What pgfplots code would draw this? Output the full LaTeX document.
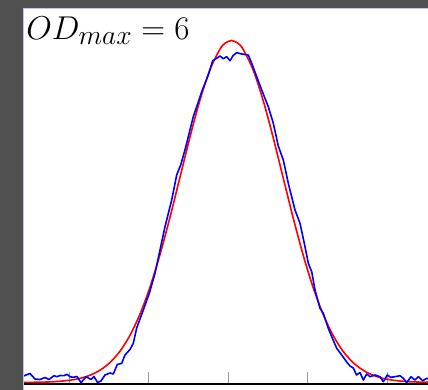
\documentclass[border=0pt]{standalone}
\usepackage{pgfplots}
\pgfplotsset{compat=1.18}
\definecolor{bggray}{HTML}{505050}
\definecolor{lav}{RGB}{195,195,240}
\begin{document}
\begin{tikzpicture}[x=1pt,y=1pt]
\fill[bggray] (0,0) rectangle (428,390);
\fill[white] (24,0) rectangle (428,381);
\draw[lav, line width=1pt] (23.5,0) -- (23.5,381.5) -- (428,381.5);
\begin{axis}[
  at={(24pt,6pt)}, anchor=south west,
  scale only axis, width=404pt, height=375pt,
  xmin=24, xmax=428, ymin=0, ymax=375,
  axis x line=bottom, axis y line=none,
  axis line style={-, black, line width=1.6pt},
  xtick={69,148.6,228.2,307.8,387.4}, xticklabels={}, ytick=\empty,
  tick align=inside, major tick length=11.5pt,
  tick style={gray!80, line width=1pt},
]
\addplot[red, line width=1.6pt, smooth] coordinates {
(24,1.59) (40,1.80) (55,2.36) (70,3.77) (80,5.65) (90,8.79) (100,13.81)
(110,21.5) (120,32.8) (130,48.7) (140,69.9) (150,96.9) (160,129.5)
(170,166.8) (180,206.9) (190,247.1) (200,284.1) (210,314.4) (220,334.9)
(225,340.7) (231.5,343.5) (238,340.7) (243,334.9) (253,314.4) (263,284.1)
(273,247.1) (283,206.9) (293,166.8) (303,129.5) (313,96.9) (323,69.9)
(333,48.7) (343,32.8) (353,21.5) (363,13.81) (373,8.79) (383,5.65)
(393,3.77) (408,2.36) (428,1.70)
};
\addplot[blue, line width=1.6pt, line join=round] coordinates {
(24,8) (26,9) (30,10.5) (35,5) (40,4.5) (45,6.5) (49,4.5) (54,8.3) (57,7.3)
(60,8.5) (64,8.3) (67,9.7) (70,7.3) (73,6.7) (77,7.5) (81,1.3) (86,7.3)
(91,4.5) (94,7.5) (97.5,1.5) (101,3) (105,9) (110,11) (113.3,10)
(117.3,19.5) (121.7,20.7) (125,29) (130,34.5) (133.3,40.7) (136.7,56)
(143.3,74) (149.3,90.7) (155,110.7) (160,134) (165,157.3) (171.7,184)
(176.7,209) (180.7,219) (185.5,236) (193.3,267.3) (196.7,277.3)
(201.7,292.3) (205,300.7) (208.3,309) (212.7,323.3) (216.7,325.7)
(220,328) (223.3,325.3) (226.7,327.3) (230,323.3) (233.3,328.7)
(236.7,331.3) (241.7,330) (248.3,329) (251.7,320.7) (256.7,307.3)
(261.7,294) (268.3,277.3) (273.3,260.7) (278.3,238) (283.3,224)
(288.3,200.7) (295,174) (300,160.7) (305,137.3) (308.3,120.7)
(311.7,112.3) (315,94) (320,75.7) (323.3,70.7) (328.3,55.7) (331.7,47.3)
(336.7,35.7) (341.7,29) (346.7,22) (350,18) (353.3,16) (356.5,9)
(360,11.5) (363.3,4) (366.7,10) (370,7.3) (375,9) (380,7.3) (383.3,2.3)
(387.3,9) (390.7,6.7) (395,7.3) (400,8.3) (403.3,5.7) (406.7,1.3)
(411,7.3) (415,4) (418.3,7.3) (422.7,3.3) (426.7,5.7) (428,5)
};
\end{axis}
\node[anchor=base west, inner sep=0pt, scale=1.326, transform shape, font=\fontsize{24.88}{26}\selectfont] at (26,350.7) {$OD_{max} = 6$};
\pgfresetboundingbox
\useasboundingbox (0,0) rectangle (428,390);
\end{tikzpicture}
\end{document}
